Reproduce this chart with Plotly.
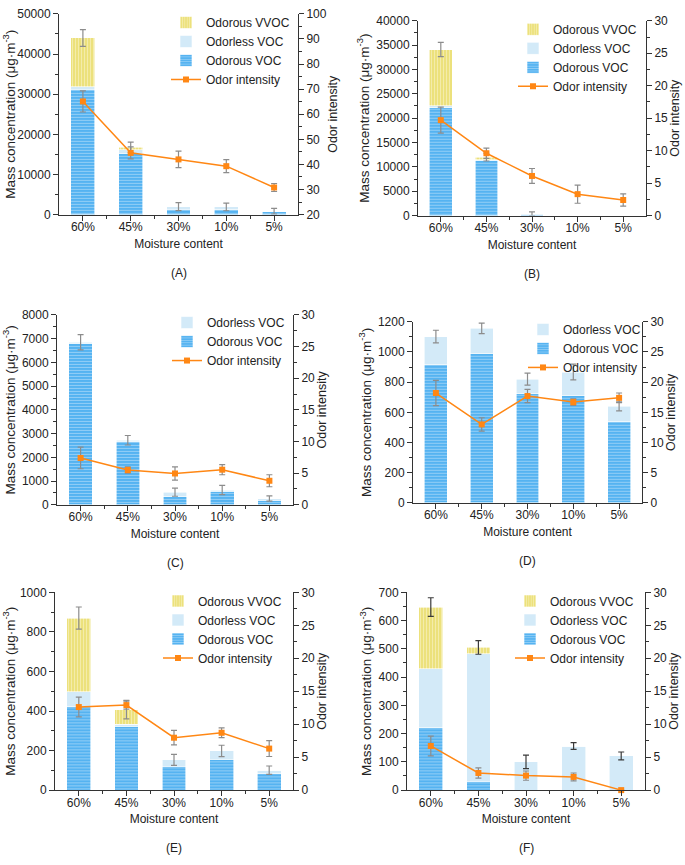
import plotly.graph_objects as go

# ---------------- data ----------------
moisture = ["60%", "45%", "30%", "10%", "5%"]

A_odorous_voc = [31200, 15300, 1350, 1250, 660]
A_odorless_voc = [700, 900, 650, 650, 170]
A_odorous_vvoc = [12100, 550, 0, 0, 0]
A_bar_err = [2100, 1300, 1000, 950, 700]
A_odor = [65.1, 44.6, 42.0, 39.3, 30.8]
A_odor_err = [4.2, 2.4, 3.3, 2.6, 1.6]

B_odorous_voc = [22100, 11300, 300, 0, 0]
B_odorless_voc = [500, 200, 50, 0, 0]
B_odorous_vvoc = [11500, 500, 0, 0, 0]
B_bar_err = [1450, 800, 400, 0, 0]
B_odor = [14.7, 9.6, 6.1, 3.3, 2.4]
B_odor_err = [2.0, 0.8, 1.15, 1.4, 0.95]

C_odorous_voc = [6800, 2650, 350, 580, 200]
C_odorless_voc = [50, 70, 180, 40, 65]
C_bar_err = [320, 200, 170, 195, 110]
C_odor = [7.4, 5.5, 4.95, 5.55, 3.8]
C_odor_err = [1.7, 0.5, 1.05, 0.8, 0.95]

D_odorous_voc = [915, 987, 722, 711, 537]
D_odorless_voc = [187, 170, 98, 156, 102]
D_bar_err = [42, 35, 40, 52, 30]
D_odor = [18.2, 13.0, 17.7, 16.7, 17.4]
D_odor_err = [2.1, 1.1, 1.1, 0.55, 0.8]

E_odorous_voc = [422, 324, 121, 156, 83]
E_odorless_voc = [75, 10, 32, 42, 18]
E_odorous_vvoc = [373, 73, 0, 0, 0]
E_bar_err = [56, 47, 28, 29, 21]
E_odor = [12.6, 12.9, 7.95, 8.7, 6.3]
E_odor_err = [1.5, 0.6, 1.1, 0.75, 1.2]

F_odorous_voc = [220, 31, 0, 0, 0]
F_odorless_voc = [210, 452, 100, 156, 121]
F_odorous_vvoc = [218, 22, 0, 0, 0]
F_bar_err = [33, 24, 24, 12, 14]
F_odor = [6.7, 2.6, 2.2, 2.0, 0.0]
F_odor_err = [1.5, 0.77, 0.7, 0.6, 0.0]

panel_labels = ["(A)", "(B)", "(C)", "(D)", "(E)", "(F)"]

# ---------------- style ----------------
W, H = 685, 865
FONT = "Liberation Sans, Arial, sans-serif"
BLUE = "#55b3f1"
BLUE_STRIPE = "#cfeafc"
LIGHT = "#d3eaf8"
YELLOW = "#ece17c"
YELLOW_STRIPE = "#fbf7d8"
ORANGE = "#ff8714"
GRAY = "#8c8c8c"
AXIS = "#333333"
TXT = "#222222"

panels = [
    dict(voc=A_odorous_voc, odorless=A_odorless_voc, vvoc=A_odorous_vvoc, bar_err=A_bar_err,
         odor=A_odor, odor_err=A_odor_err, yr=[0, 50000], yd=10000, y2r=[20, 100], y2d=10,
         box=(59, 298, 7, 211), leg=(166, 1), errc=GRAY),
    dict(voc=B_odorous_voc, odorless=B_odorless_voc, vvoc=B_odorous_vvoc, bar_err=B_bar_err,
         odor=B_odor, odor_err=B_odor_err, yr=[0, 40000], yd=5000, y2r=[0, 30], y2d=5,
         box=(418, 646, 14, 212), leg=(513, 8), errc=GRAY),
    dict(voc=C_odorous_voc, odorless=C_odorless_voc, vvoc=None, bar_err=C_bar_err,
         odor=C_odor, odor_err=C_odor_err, yr=[0, 8000], yd=1000, y2r=[0, 30], y2d=5,
         box=(57, 293, 313, 506), leg=(167, 306), errc=GRAY),
    dict(voc=D_odorous_voc, odorless=D_odorless_voc, vvoc=None, bar_err=D_bar_err,
         odor=D_odor, odor_err=D_odor_err, yr=[0, 1200], yd=200, y2r=[0, 30], y2d=5,
         box=(413, 642, 320, 504), leg=(523, 313), errc=GRAY),
    dict(voc=E_odorous_voc, odorless=E_odorless_voc, vvoc=E_odorous_vvoc, bar_err=E_bar_err,
         odor=E_odor, odor_err=E_odor_err, yr=[0, 1000], yd=200, y2r=[0, 30], y2d=5,
         box=(55, 293, 595, 796), leg=(158, 589), errc=GRAY),
    dict(voc=F_odorous_voc, odorless=F_odorless_voc, vvoc=F_odorous_vvoc, bar_err=F_bar_err,
         odor=F_odor, odor_err=F_odor_err, yr=[0, 700], yd=100, y2r=[0, 30], y2d=5,
         box=(407, 645, 595, 796), leg=(510, 589), errc="#3a3a3a"),
]

fig = go.Figure()
xs = list(range(len(moisture)))
layout = {}
annotations = []

for i, p in enumerate(panels):
    n = i + 1
    xa = "x" if n == 1 else f"x{n}"
    ya = f"y{2 * n - 1}" if n > 1 else "y"
    y2a = f"y{2 * n}"
    xkey = "xaxis" if n == 1 else f"xaxis{n}"
    ykey = "yaxis" if n == 1 else f"yaxis{2 * n - 1}"
    y2key = f"yaxis{2 * n}"
    leg = "legend" if n == 1 else f"legend{n}"
    l, r, t, b = p["box"]
    edge = dict(color="white", width=0.6)

    fig.add_trace(go.Bar(x=xs, y=p["voc"], name="Odorous VOC", legendrank=3,
                         xaxis=xa, yaxis=ya, legend=leg, width=0.5,
                         marker=dict(color=BLUE, line=edge,
                                     pattern=dict(shape="-", bgcolor=BLUE, fgcolor=BLUE_STRIPE,
                                                  size=3, solidity=0.35))))
    fig.add_trace(go.Bar(x=xs, y=p["odorless"], name="Odorless VOC", legendrank=2,
                         xaxis=xa, yaxis=ya, legend=leg, width=0.5,
                         marker=dict(color=LIGHT, line=edge)))
    totals = [a + c for a, c in zip(p["voc"], p["odorless"])]
    if p["vvoc"] is not None:
        fig.add_trace(go.Bar(x=xs, y=p["vvoc"], name="Odorous VVOC", legendrank=1,
                             xaxis=xa, yaxis=ya, legend=leg, width=0.5,
                             marker=dict(color=YELLOW, line=edge,
                                         pattern=dict(shape="|", bgcolor=YELLOW, fgcolor=YELLOW_STRIPE,
                                                      size=3, solidity=0.35))))
        totals = [a + c for a, c in zip(totals, p["vvoc"])]
    # error bars on the stacked totals
    fig.add_trace(go.Scatter(x=xs, y=[v if v > 0 else None for v in totals], mode="markers",
                             marker=dict(size=1, opacity=0), showlegend=False, hoverinfo="skip",
                             error_y=dict(type="data", array=p["bar_err"], color=p["errc"],
                                          thickness=1.2, width=3),
                             xaxis=xa, yaxis=ya))
    # odor intensity line
    fig.add_trace(go.Scatter(x=xs, y=p["odor"], name="Odor intensity", legendrank=4,
                             mode="lines+markers", xaxis=xa, yaxis=y2a, legend=leg,
                             line=dict(color=ORANGE, width=1.5),
                             marker=dict(symbol="square", size=6, color=ORANGE),
                             cliponaxis=False,
                             error_y=dict(type="data", array=p["odor_err"], color=GRAY,
                                          thickness=1.2, width=3)))

    xdom = [l / W, r / W]
    ydom = [1 - b / H, 1 - t / H]
    tickfont = dict(family=FONT, size=12, color=TXT)
    layout[xkey] = dict(domain=xdom, anchor=ya, range=[-0.5, len(moisture) - 0.5],
                        tickmode="array", tickvals=xs, ticktext=moisture,
                        ticks="outside", ticklen=5, tickwidth=1, tickcolor=AXIS,
                        ticklabelstandoff=-4,
                        showline=True, linecolor=AXIS, linewidth=1, showgrid=False, zeroline=False,
                        tickfont=tickfont,
                        minor=dict(tickmode="array", tickvals=[x + 0.5 for x in xs[:-1]],
                                   ticks="outside", ticklen=3, tickcolor=AXIS),
                        title=dict(text="Moisture content", font=dict(family=FONT, size=12, color=TXT),
                                   standoff=6))
    layout[ykey] = dict(domain=ydom, anchor=xa, range=p["yr"], dtick=p["yd"], tick0=0,
                        tickformat="d", ticks="outside", ticklen=5, tickcolor=AXIS,
                        showline=True, linecolor=AXIS, linewidth=1, showgrid=False, zeroline=False,
                        tickfont=tickfont,
                        minor=dict(dtick=p["yd"] / 2, tick0=0, ticks="outside", ticklen=3, tickcolor=AXIS),
                        title=dict(text="Mass concentration (μg·m<sup>-3</sup>)",
                                   font=dict(family=FONT, size=13.5, color=TXT), standoff=3))
    layout[y2key] = dict(domain=ydom, anchor=xa, overlaying=ya, side="right", range=p["y2r"],
                         dtick=p["y2d"], tick0=0, ticks="outside", ticklen=5, tickcolor=AXIS,
                         showline=True, linecolor=AXIS, linewidth=1, showgrid=False, zeroline=False,
                         tickfont=tickfont,
                         minor=dict(dtick=p["y2d"] / 2, tick0=0, ticks="outside", ticklen=3, tickcolor=AXIS),
                         title=dict(text="Odor intensity", font=dict(family=FONT, size=12.5, color=TXT),
                                    standoff=2))
    layout[leg] = dict(x=p["leg"][0] / W, y=1 - p["leg"][1] / H, xanchor="left", yanchor="top",
                       bgcolor="rgba(0,0,0,0)", font=dict(family=FONT, size=12, color=TXT),
                       tracegroupgap=0, itemwidth=30, traceorder="normal")
    annotations.append(dict(text=panel_labels[i], x=(l + r) / 2 / W, y=1 - (b + 59) / H,
                            xref="paper", yref="paper", xanchor="center", yanchor="middle",
                            showarrow=False, font=dict(family=FONT, size=12, color=TXT)))

fig.update_layout(width=W, height=H, margin=dict(l=0, r=0, t=0, b=0),
                  barmode="stack", bargap=0.5, plot_bgcolor="white", paper_bgcolor="white",
                  font=dict(family=FONT, size=12, color=TXT),
                  annotations=annotations, **layout)

fig.write_html("out.html", config={"displayModeBar": False},
               post_script="document.body.style.margin='0px';")
